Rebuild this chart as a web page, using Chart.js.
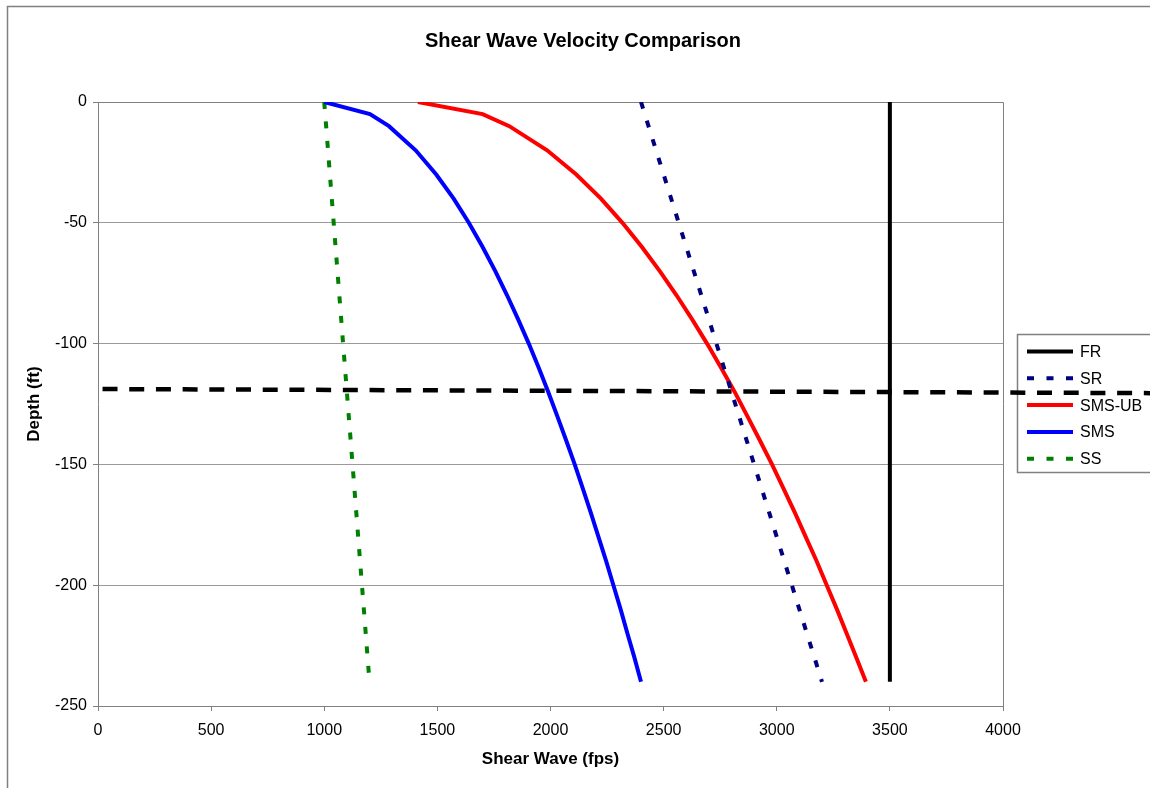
<!DOCTYPE html>
<html>
<head>
<meta charset="utf-8">
<title>Shear Wave Velocity Comparison</title>
<script src="https://cdn.jsdelivr.net/npm/chart.js@4.4.1/dist/chart.umd.min.js"></script>
<style>
  html, body { margin: 0; padding: 0; background: #ffffff; overflow: hidden; }
  #wrap { position: relative; width: 1150px; height: 788px; overflow: hidden; }
  canvas { display: block; }
</style>
</head>
<body>
<div id="wrap"><canvas id="chart" width="1166" height="788"></canvas></div>
<script>
// ---------------- data ----------------
const profileDepths = [0, -5, -10, -20, -30, -40, -50, -60, -70, -80, -90, -100, -110, -120,
  -130, -140, -150, -160, -170, -180, -190, -200, -210, -220, -230, -240];
const smsVelocity = [1000, 1202, 1286, 1404, 1495, 1572, 1639, 1700, 1756, 1808, 1857, 1904, 1948, 1990,
  2030, 2069, 2107, 2143, 2178, 2212, 2246, 2278, 2310, 2340, 2371, 2400];
const smsUbVelocity = [1414, 1700, 1818, 1985, 2114, 2223, 2318, 2404, 2483, 2557, 2626, 2692, 2754, 2814,
  2870, 2925, 2979, 3030, 3080, 3128, 3176, 3221, 3266, 3309, 3352, 3394];
const lineDepths = [0, -240];
const frVelocity = [3500, 3500];
const srVelocity = [2400, 3200];
const ssVelocity = [1000, 1200];
const bedrockVelocity = [20, 4650];
const bedrockDepth = [-118.8, -120.5];
const xTicks = [0, 500, 1000, 1500, 2000, 2500, 3000, 3500, 4000];
const yTicks = [0, -50, -100, -150, -200, -250];
const seriesLabels = ['FR', 'SR', 'SMS-UB', 'SMS', 'SS'];

// ---------------- helpers ----------------
const FONT = '"Liberation Sans", Arial, Helvetica, sans-serif';
Chart.defaults.font.family = FONT;
Chart.defaults.color = '#000000';

function toPoints(xs, ys) { return xs.map((v, i) => ({ x: v, y: ys[i] })); }

const LEGEND_WIDTH = 163;

function drawLegend(chart, box) {
  const ctx = chart.ctx;
  const cy = (box.top + box.bottom) / 2;
  const x0 = Math.round(box.left + 14) + 0.5;
  const top = Math.round(cy - 70) + 0.5;
  const bottom = Math.round(cy + 68) + 0.5;
  ctx.save();
  ctx.strokeStyle = '#808080';
  ctx.lineWidth = 1.5;
  ctx.setLineDash([]);
  ctx.strokeRect(x0, top, box.right + 20 - x0, bottom - top);
  const ds = chart.data.datasets.filter(d => seriesLabels.includes(d.label));
  ds.forEach((d, i) => {
    const y = top + 17 + i * 26.8;
    ctx.beginPath();
    ctx.strokeStyle = d.borderColor;
    ctx.lineWidth = d.borderWidth;
    ctx.lineCap = 'butt';
    ctx.setLineDash(d.borderDash || []);
    ctx.moveTo(x0 + 9.5, y);
    ctx.lineTo(x0 + 55.5, y);
    ctx.stroke();
    ctx.setLineDash([]);
    ctx.fillStyle = '#000000';
    ctx.font = '16px ' + FONT;
    ctx.textAlign = 'left';
    ctx.textBaseline = 'middle';
    ctx.fillText(d.label, x0 + 62.5, y + 1);
  });
  ctx.restore();
}

const legendBoxPlugin = {
  id: 'legendBox',
  beforeInit(chart) {
    const box = {
      position: 'right', weight: 100, fullSize: false,
      options: { stackWeight: 1 },
      left: 0, top: 0, right: 0, bottom: 0, width: 0, height: 0,
      isHorizontal() { return false; },
      update(maxWidth, maxHeight) { this.width = LEGEND_WIDTH; this.height = maxHeight; },
      getPadding() { return { top: 0, left: 0, right: 0, bottom: 0 }; },
      draw() { drawLegend(chart, this); }
    };
    if (Chart.layouts && Chart.layouts.addBox) {
      Chart.layouts.addBox(chart, box);
    } else {
      box._layers = () => [{ z: 0, draw() { box.draw(); } }];
      chart.boxes.push(box);
    }
  }
};

const framePlugin = {
  id: 'frame',
  beforeDraw(chart) {
    const ctx = chart.ctx;
    ctx.save();
    ctx.fillStyle = '#ffffff';
    ctx.fillRect(0, 0, chart.width, chart.height);
    ctx.strokeStyle = '#808080';
    ctx.lineWidth = 1.5;
    ctx.beginPath();
    ctx.moveTo(7.5, chart.height + 2);
    ctx.lineTo(7.5, 6.5);
    ctx.lineTo(chart.width + 2, 6.5);
    ctx.stroke();
    ctx.restore();
  },
  beforeDatasetsDraw(chart) {
    const a = chart.chartArea;
    const ctx = chart.ctx;
    ctx.save();
    ctx.strokeStyle = '#808080';
    ctx.lineWidth = 1;
    ctx.beginPath();
    ctx.moveTo(a.left, Math.round(a.top) + 0.5);
    ctx.lineTo(Math.round(a.right) + 0.5, Math.round(a.top) + 0.5);
    ctx.lineTo(Math.round(a.right) + 0.5, a.bottom);
    ctx.stroke();
    ctx.restore();
  }
};

const commonLine = { showLine: true, pointRadius: 0, pointHoverRadius: 0, tension: 0, fill: false, borderCapStyle: 'butt' };

const datasets = [
  Object.assign({ label: 'FR', data: toPoints(frVelocity, lineDepths), borderColor: '#000000', borderWidth: 4, borderDash: [] }, commonLine),
  Object.assign({ label: 'SR', data: toPoints(srVelocity, lineDepths), borderColor: '#000080', borderWidth: 4, borderDash: [7, 12.5] }, commonLine),
  Object.assign({ label: 'SMS-UB', data: toPoints(smsUbVelocity, profileDepths), borderColor: '#ff0000', borderWidth: 4, borderDash: [] }, commonLine),
  Object.assign({ label: 'SMS', data: toPoints(smsVelocity, profileDepths), borderColor: '#0000ff', borderWidth: 4, borderDash: [] }, commonLine),
  Object.assign({ label: 'SS', data: toPoints(ssVelocity, lineDepths), borderColor: '#008000', borderWidth: 4, borderDash: [7, 12.5] }, commonLine),
  Object.assign({ label: 'Bedrock depth', data: toPoints(bedrockVelocity, bedrockDepth), borderColor: '#000000', borderWidth: 4.5, borderDash: [15, 11.7], clip: false }, commonLine)
];

new Chart(document.getElementById('chart'), {
  type: 'scatter',
  data: { datasets },
  plugins: [framePlugin, legendBoxPlugin],
  options: {
    responsive: false,
    animation: false,
    devicePixelRatio: 1,
    layout: { padding: 0 },
    plugins: {
      legend: { display: false },
      tooltip: { enabled: false },
      title: {
        display: true,
        text: 'Shear Wave Velocity Comparison',
        color: '#000000',
        font: { family: FONT, size: 20, weight: 'bold', lineHeight: 1.2 },
        padding: { top: 29, bottom: 49 }
      }
    },
    scales: {
      x: {
        type: 'linear', position: 'bottom', min: 0, max: 4000,
        afterBuildTicks: s => { s.ticks = xTicks.map(v => ({ value: v })); },
        afterFit: s => { s.height = 82; },
        grid: { drawOnChartArea: false, drawTicks: true, tickLength: 5, tickColor: '#808080', color: '#808080' },
        border: { display: true, color: '#808080', width: 1 },
        ticks: { color: '#000000', font: { family: FONT, size: 16 }, padding: 10, maxRotation: 0, autoSkip: false,
                 callback: v => String(v) },
        title: { display: true, text: 'Shear Wave (fps)', color: '#000000', font: { family: FONT, size: 17, weight: 'bold', lineHeight: 1.2 }, padding: { top: 0, bottom: 18 } }
      },
      y: {
        type: 'linear', position: 'left', min: -250, max: 0,
        afterBuildTicks: s => { s.ticks = yTicks.map(v => ({ value: v })); },
        afterFit: s => { s.width = 98; },
        grid: { color: '#9a9a9a', lineWidth: 1, drawTicks: true, tickLength: 5, tickColor: '#808080' },
        border: { display: true, color: '#808080', width: 1 },
        ticks: { color: '#000000', font: { family: FONT, size: 16 }, padding: 6, callback: v => String(v) },
        title: { display: true, text: 'Depth (ft)', color: '#000000', font: { family: FONT, size: 17, weight: 'bold', lineHeight: 1.2 }, padding: { top: 24, bottom: 0 } }
      }
    }
  }
});
</script>
</body>
</html>
